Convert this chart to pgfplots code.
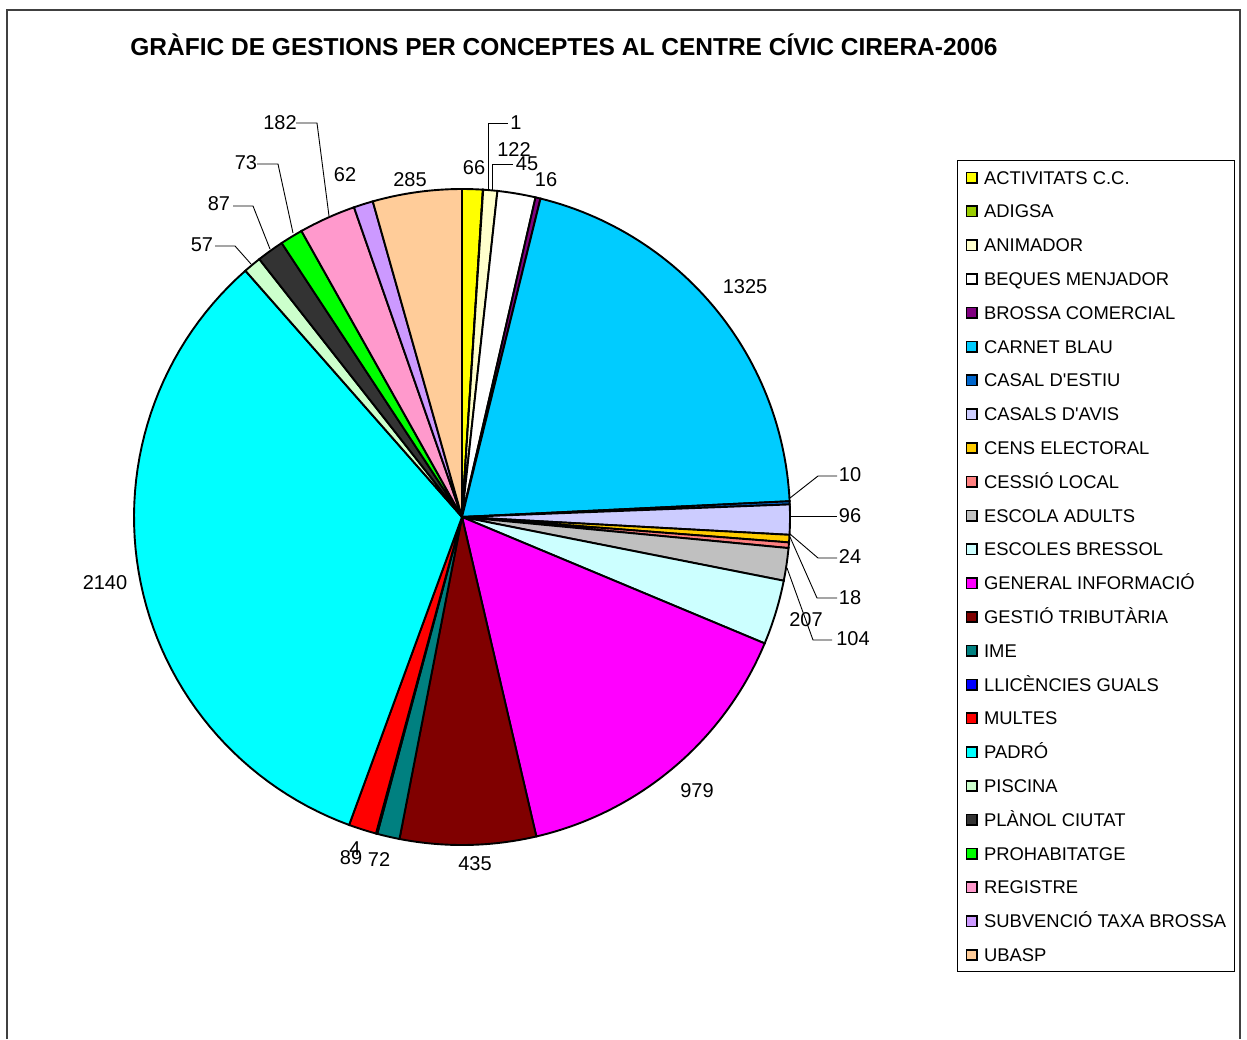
\documentclass[border=0pt]{standalone}
\usepackage{fontspec}
\setmainfont{Liberation Sans}[Ligatures=TeXOff]
\usepackage{pgfplots}
\usepackage{pgfplotstable}
\pgfplotsset{compat=1.18}

\definecolor{cActiv}{HTML}{FFFF00}
\definecolor{cAdigsa}{HTML}{99CC00}
\definecolor{cAnim}{HTML}{FFFFCC}
\definecolor{cBeques}{HTML}{FFFFFF}
\definecolor{cBrossa}{HTML}{800080}
\definecolor{cCarnet}{HTML}{00CCFF}
\definecolor{cCasal}{HTML}{0066CC}
\definecolor{cAvis}{HTML}{CCCCFF}
\definecolor{cCens}{HTML}{FFCC00}
\definecolor{cCessio}{HTML}{FF8080}
\definecolor{cAdults}{HTML}{C0C0C0}
\definecolor{cBressol}{HTML}{CCFFFF}
\definecolor{cGeneral}{HTML}{FF00FF}
\definecolor{cGestio}{HTML}{800000}
\definecolor{cIme}{HTML}{008080}
\definecolor{cLlic}{HTML}{0000FF}
\definecolor{cMultes}{HTML}{FF0000}
\definecolor{cPadro}{HTML}{00FFFF}
\definecolor{cPiscina}{HTML}{CCFFCC}
\definecolor{cPlanol}{HTML}{333333}
\definecolor{cProhab}{HTML}{00FF00}
\definecolor{cRegistre}{HTML}{FF99CC}
\definecolor{cSubv}{HTML}{CC99FF}
\definecolor{cUbasp}{HTML}{FFCC99}

% value label positions (lx, ly) are in picture pixels, y downwards
\pgfplotstableread[col sep=comma]{
name,value,color,lx,ly
ACTIVITATS C.C.,66,cActiv,474,168
ADIGSA,1,cAdigsa,516,123
ANIMADOR,45,cAnim,527,164
BEQUES MENJADOR,122,cBeques,514,150
BROSSA COMERCIAL,16,cBrossa,546,180
CARNET BLAU,1325,cCarnet,745,287
CASAL D'ESTIU,10,cCasal,850,475
CASALS D'AVIS,96,cAvis,850,516
CENS ELECTORAL,24,cCens,850,557
CESSIÓ LOCAL,18,cCessio,850,598
ESCOLA ADULTS,104,cAdults,853,639
ESCOLES BRESSOL,207,cBressol,806,620
GENERAL INFORMACIÓ,979,cGeneral,697,791
GESTIÓ TRIBUTÀRIA,435,cGestio,475,864
IME,72,cIme,379,860
LLICÈNCIES GUALS,4,cLlic,355,849
MULTES,89,cMultes,351,858
PADRÓ,2140,cPadro,105,583
PISCINA,57,cPiscina,202,245
PLÀNOL CIUTAT,87,cPlanol,219,204
PROHABITATGE,73,cProhab,246,163
REGISTRE,182,cRegistre,280,123
SUBVENCIÓ TAXA BROSSA,62,cSubv,345,175
UBASP,285,cUbasp,410,180
}\gestions

\newcommand\labfont{\fontsize{10}{12}\selectfont}
\def\cx{462}
\def\cy{517}
\def\rad{328}

\begin{document}
\begin{tikzpicture}
\pgfplotstablegetrowsof{\gestions}
\pgfmathtruncatemacro\lastrow{\pgfplotsretval-1}
\def\total{0}
\pgfplotsforeachungrouped \i in {0,...,\lastrow}{%
  \pgfplotstablegetelem{\i}{value}\of\gestions
  \pgfmathsetmacro\total{\total+\pgfplotsretval}}
\begin{axis}[
  x=0.5pt, y=0.5pt, y dir=reverse,
  xmin=0, xmax=1247, ymin=0, ymax=1039,
  hide axis, clip=false,
  legend style={at={(axis cs:957,160)}, anchor=north west,
    draw=black, line width=0.5pt, fill=white,
    font=\fontsize{9.2}{11}\selectfont,
    inner xsep=4pt, inner ysep=3.8pt, row sep=7.5pt,
    /tikz/column sep=3.3pt,
    nodes={inner sep=0pt, text height=8pt, text depth=1.4pt},
    cells={anchor=west}},
  legend image code/.code={\draw[#1,draw=black,line width=0.8pt]
    (0pt,-2.6pt) rectangle (5.2pt,2.6pt);},
]
\def\cum{0}
\pgfplotsforeachungrouped \i in {0,...,\lastrow}{%
  \pgfplotstablegetelem{\i}{value}\of\gestions \let\val\pgfplotsretval
  \pgfplotstablegetelem{\i}{color}\of\gestions \let\col\pgfplotsretval
  \pgfplotstablegetelem{\i}{name}\of\gestions \let\nm\pgfplotsretval
  \pgfplotstablegetelem{\i}{lx}\of\gestions \let\lx\pgfplotsretval
  \pgfplotstablegetelem{\i}{ly}\of\gestions \let\ly\pgfplotsretval
  \pgfmathsetmacro\angA{-90+360*(\cum/\total)}%
  \pgfmathsetmacro\cum{\cum+\val}%
  \pgfmathsetmacro\angB{-90+360*(\cum/\total)}%
  \edef\wedge{\noexpand\addplot[fill=\col, draw=black, line width=0.95pt,
      domain=\angA:\angB, samples=60]
    ({\cx+\rad*cos(x)}, {\cy+\rad*sin(x)}) -- (axis cs:\cx,\cy) -- cycle;}%
  \wedge
  \addlegendentryexpanded{\nm}%
  \edef\lab{\noexpand\node[font=\noexpand\labfont, inner sep=0pt]
    at (axis cs:\lx,\ly) {\val};}%
  \lab
}
% leader lines
\draw[line width=0.45pt] (axis cs:488,190) -- (axis cs:488,123) -- (axis cs:508,123);
\draw[line width=0.45pt] (axis cs:492,190) -- (axis cs:492,164) -- (axis cs:513,164);
\draw[line width=0.45pt] (axis cs:790,498) -- (axis cs:818,476) -- (axis cs:837,476);
\draw[line width=0.45pt] (axis cs:791,516) -- (axis cs:837,516);
\draw[line width=0.45pt] (axis cs:790,534) -- (axis cs:818,558) -- (axis cs:837,558);
\draw[line width=0.45pt] (axis cs:790,537) -- (axis cs:817,598) -- (axis cs:837,598);
\draw[line width=0.45pt] (axis cs:787,568) -- (axis cs:813,640) -- (axis cs:832,640);
\draw[line width=0.45pt] (axis cs:251,264) -- (axis cs:235,246) -- (axis cs:215,246);
\draw[line width=0.45pt] (axis cs:270,249) -- (axis cs:253,206) -- (axis cs:233,206);
\draw[line width=0.45pt] (axis cs:293,233) -- (axis cs:278,164) -- (axis cs:257,164);
\draw[line width=0.45pt] (axis cs:329,216) -- (axis cs:317,123) -- (axis cs:296,123);
% title and frame
\node[anchor=base, font=\fontsize{12.25}{14}\bfseries] at (axis cs:564,55)
  {GRÀFIC DE GESTIONS PER CONCEPTES AL CENTRE CÍVIC CIRERA-2006};
\draw[line width=1pt, color=black!75] (axis cs:7,1039) -- (axis cs:7,10)
  -- (axis cs:1240,10) -- (axis cs:1240,1039);
\coordinate (SW) at (axis cs:0,1039);
\coordinate (NE) at (axis cs:1247,0);
\end{axis}
\pgfresetboundingbox
\useasboundingbox (SW) rectangle (NE);
\end{tikzpicture}
\end{document}
